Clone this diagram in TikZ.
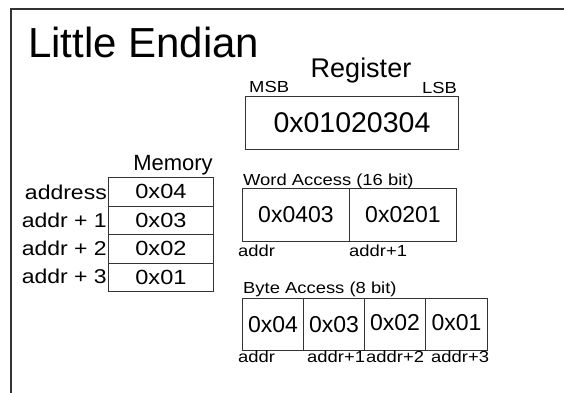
\documentclass[tikz,border=0pt]{standalone}
\usepackage{fontspec}
\setmainfont{Liberation Sans}
\newfontfamily\widesf[FakeStretch=1.15]{Liberation Sans}

\begin{document}
\begin{tikzpicture}[x=1pt,y=-1pt,
  every node/.style={inner sep=0pt},
  frame/.style={draw=black!80, line width=1.2pt},
  cell/.style={draw=black!80, line width=0.9pt, anchor=north west},
  title/.style={font=\fontsize{42}{48}\selectfont},
  heading/.style={font=\fontsize{27}{32}\selectfont},
  small/.style={font=\widesf\fontsize{16}{19}\selectfont},
  memlabel/.style={font=\widesf\fontsize{20}{24}\selectfont},
  memval/.style={font=\widesf\fontsize{20.5}{24}\selectfont},
  regval/.style={font=\fontsize{28.5}{34}\selectfont},
  accval/.style={font=\fontsize{23}{28}\selectfont}]
\useasboundingbox (0,0) rectangle (564,392);

% outer frame: top and left edges only
\coordinate (fr) at (566,9);
\coordinate (fc) at (11,9);
\coordinate (fb) at (11,394);
\draw[frame] (fr) -- (fc) -- (fb);

\node[title, anchor=base west] (title) at (28,57) {Little Endian};

% register
\node[heading, anchor=base] (reglabel) at (361,77) {Register};
\node[small, anchor=base west] (msb) at (249,92) {MSB};
\node[small, anchor=base east] (lsb) at (457,93) {LSB};
\node[cell, regval, minimum width=213, minimum height=53] (reg) at (245,96) {0x01020304};

% memory column
\node[font=\fontsize{22}{26}\selectfont, anchor=base] (memlabel) at (173,170) {Memory};
\node[cell, memval, minimum width=105, minimum height=28.5] (m0) at (108,177) {\raisebox{-2pt}{0x04}};
\node[cell, memval, minimum width=105, minimum height=28.5] (m1) at (108,205.5) {\raisebox{-2pt}{0x03}};
\node[cell, memval, minimum width=105, minimum height=28.5] (m2) at (108,234) {\raisebox{-2pt}{0x02}};
\node[cell, memval, minimum width=105, minimum height=28.5] (m3) at (108,262.5) {\raisebox{-2pt}{0x01}};
\node[memlabel, anchor=base east] (a0) at (107,199) {address};
\node[memlabel, anchor=base east] (a1) at (107,227) {addr + 1};
\node[memlabel, anchor=base east] (a2) at (107,255) {addr + 2};
\node[memlabel, anchor=base east] (a3) at (107,283) {addr + 3};

% word access
\node[small, anchor=base west] (wlabel) at (243,185) {Word Access (16 bit)};
\node[cell, accval, minimum width=107, minimum height=53] (w0) at (242,188) {0x0403};
\node[cell, accval, minimum width=107, minimum height=53] (w1) at (349,188) {0x0201};
\node[small, anchor=base west] (wa0) at (238,256) {addr};
\node[small, anchor=base west] (wa1) at (349,256) {addr+1};

% byte access
\node[small, anchor=base west] (blabel) at (243,293) {Byte Access (8 bit)};
\node[cell, accval, minimum width=61, minimum height=52] (b0) at (242,298) {\raisebox{-2pt}{0x04}};
\node[cell, accval, minimum width=61, minimum height=52] (b1) at (303,298) {\raisebox{-2pt}{0x03}};
\node[cell, accval, minimum width=61, minimum height=52] (b2) at (364,298) {\raisebox{3pt}{0x02}};
\node[cell, accval, minimum width=62, minimum height=52] (b3) at (425,298) {\raisebox{3pt}{0x01}};
\node[small, anchor=base west] (ba0) at (238,362) {addr};
\node[small, anchor=base west] (ba1) at (307,362) {addr+1};
\node[small, anchor=base west] (ba2) at (366,362) {addr+2};
\node[small, anchor=base west] (ba3) at (431,362) {addr+3};
\end{tikzpicture}
\end{document}
